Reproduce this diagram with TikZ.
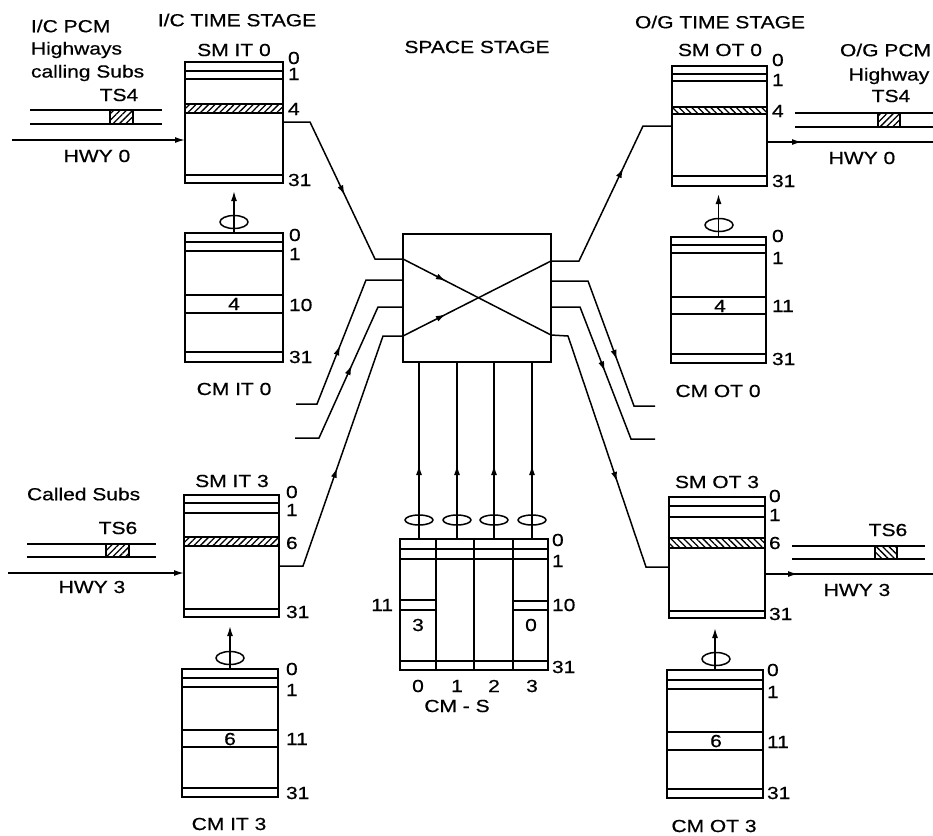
\documentclass[tikz,border=0pt]{standalone}
\usepackage{fontspec}
\setmainfont{Liberation Sans}[FakeStretch=1.2,FakeBold=0.6]
\usetikzlibrary{patterns,patterns.meta,decorations.markings,arrows.meta,shapes.geometric}
\begin{document}
\begin{tikzpicture}[x=1pt,y=-1pt,
  every node/.style={inner sep=0pt,outer sep=0pt},
  txt/.style={font=\fontsize{17.5}{20}\selectfont},
  membox/.style={draw,line width=2pt,rectangle,inner sep=0pt},
  rowln/.style={line width=1.5pt},
  wire/.style={line width=1.5pt},
  hne/.style={rowln,pattern={Lines[angle=45,distance=4.5pt,line width=1.3pt]}},
  hnw/.style={rowln,pattern={Lines[angle=-45,distance=4.5pt,line width=1.3pt]}},
  ring/.style={draw,ellipse,line width=1.5pt,minimum width=28pt,minimum height=13pt},
  ringsm/.style={draw,ellipse,line width=1.5pt,minimum width=28pt,minimum height=10pt},
  ar/.style={postaction={decorate,decoration={markings,mark=at position #1 with {\arrow{Latex[length=10pt,width=6pt]}}}}},
  tip/.style={-{Latex[length=10pt,width=6pt]}}
]
\useasboundingbox (0,0) rectangle (933,835);
\clip (0,0) rectangle (933,835);

% ---------- headings ----------
\node[txt] (hIC) at (237,20) {I/C TIME STAGE};
\node[txt] (hSP) at (477,47) {SPACE STAGE};
\node[txt] (hOG) at (720,22) {O/G TIME STAGE};
\node[txt,anchor=west] (pcm1) at (31,26) {I/C PCM};
\node[txt,anchor=west] (pcm2) at (31,50) {Highways};
\node[txt,anchor=west] (pcm3) at (31,73) {calling Subs};
\node[txt,anchor=east] (opcm1) at (931,50) {O/G PCM};
\node[txt] (opcm2) at (889,76) {Highway};
\node[txt,anchor=west] (csub) at (27,494) {Called Subs};

% ---------- SM IT 0 ----------
\node[txt] (tsmit0) at (234,50) {SM IT 0};
\node[membox,minimum width=98pt,minimum height=121pt] (smit0) at (234,122.5) {};
\draw[rowln] (185,71) -- (283,71) (185,79) -- (283,79) (185,175) -- (283,175);
\draw[hne] (185,104) rectangle (283,113);
\node[txt,anchor=west] (a0) at (288,58) {0};
\node[txt,anchor=west] (a1) at (288,74) {1};
\node[txt,anchor=west] (a4) at (288,109) {4};
\node[txt,anchor=west] (a31) at (288,180) {31};

% ---------- CM IT 0 ----------
\node[membox,minimum width=98pt,minimum height=129pt] (cmit0) at (234,297.5) {};
\draw[rowln] (185,242) -- (283,242) (185,251) -- (283,251) (185,295) -- (283,295) (185,313) -- (283,313) (185,352) -- (283,352);
\node[txt] (b4) at (234,304) {4};
\node[txt,anchor=west] (b0) at (289,235) {0};
\node[txt,anchor=west] (b1) at (289,254) {1};
\node[txt,anchor=west] (b10) at (289,305) {10};
\node[txt,anchor=west] (b31) at (289,357) {31};
\node[txt] (tcmit0) at (234,389) {CM IT 0};
\node[ring] (rit0) at (234,222) {};
\draw[wire,tip,shorten >=8pt] (cmit0.north) -- (cmit0.north |- smit0.south);

% ---------- SM OT 0 ----------
\node[txt] (tsmot0) at (720,50) {SM OT 0};
\node[membox,minimum width=95pt,minimum height=120pt] (smot0) at (719.5,126) {};
\draw[rowln] (672,74) -- (767,74) (672,81) -- (767,81) (672,176) -- (767,176);
\draw[hnw] (672,107) rectangle (767,114);
\node[txt,anchor=west] (c0) at (772,60) {0};
\node[txt,anchor=west] (c1) at (772,80) {1};
\node[txt,anchor=west] (c4) at (772,111) {4};
\node[txt,anchor=west] (c31) at (772,181) {31};

% ---------- CM OT 0 ----------
\node[membox,minimum width=95pt,minimum height=126pt] (cmot0) at (718.5,300) {};
\draw[rowln] (671,245) -- (766,245) (671,253) -- (766,253) (671,297) -- (766,297) (671,314) -- (766,314) (671,354) -- (766,354);
\node[txt] (d4) at (720,306) {4};
\node[txt,anchor=west] (d0) at (772,236) {0};
\node[txt,anchor=west] (d1) at (772,258) {1};
\node[txt,anchor=west] (d11) at (772,306) {11};
\node[txt,anchor=west] (d31) at (772,359) {31};
\node[txt] (tcmot0) at (718,391) {CM OT 0};
\node[ring] (rot0) at (719,225) {};
\draw[wire,tip,shorten >=8pt] (cmot0.north) -- (cmot0.north |- smot0.south);

% ---------- SM IT 3 ----------
\node[txt] (tsmit3) at (232,481) {SM IT 3};
\node[membox,minimum width=95pt,minimum height=122pt] (smit3) at (231.5,556) {};
\draw[rowln] (184,503) -- (279,503) (184,513) -- (279,513) (184,609) -- (279,609);
\draw[hne] (184,537) rectangle (279,546);
\node[txt,anchor=west] (e0) at (286,492) {0};
\node[txt,anchor=west] (e1) at (286,510) {1};
\node[txt,anchor=west] (e6) at (286,543) {6};
\node[txt,anchor=west] (e31) at (286,612) {31};

% ---------- CM IT 3 ----------
\node[membox,minimum width=96pt,minimum height=128pt] (cmit3) at (230,733) {};
\draw[rowln] (182,678) -- (278,678) (182,687) -- (278,687) (182,730) -- (278,730) (182,747) -- (278,747) (182,788) -- (278,788);
\node[txt] (f6) at (230,739) {6};
\node[txt,anchor=west] (f0) at (286,669) {0};
\node[txt,anchor=west] (f1) at (286,690) {1};
\node[txt,anchor=west] (f11) at (286,739) {11};
\node[txt,anchor=west] (f31) at (286,793) {31};
\node[txt] (tcmit3) at (229,824) {CM IT 3};
\node[ring] (rit3) at (230,658) {};
\draw[wire,tip,shorten >=9pt] (cmit3.north) -- (cmit3.north |- smit3.south);

% ---------- SM OT 3 ----------
\node[txt] (tsmot3) at (717,482) {SM OT 3};
\node[membox,minimum width=96pt,minimum height=121pt] (smot3) at (717,557.5) {};
\draw[rowln] (669,506) -- (765,506) (669,517) -- (765,517) (669,611) -- (765,611);
\draw[hnw] (669,538) rectangle (765,548);
\node[txt,anchor=west] (g0) at (769,496) {0};
\node[txt,anchor=west] (g1) at (769,515) {1};
\node[txt,anchor=west] (g6) at (769,543) {6};
\node[txt,anchor=west] (g31) at (769,614) {31};

% ---------- CM OT 3 ----------
\node[membox,minimum width=96pt,minimum height=128pt] (cmot3) at (715,734) {};
\draw[rowln] (667,680) -- (763,680) (667,689) -- (763,689) (667,732) -- (763,732) (667,750) -- (763,750) (667,789) -- (763,789);
\node[txt] (h6) at (716,741) {6};
\node[txt,anchor=west] (h0) at (767,670) {0};
\node[txt,anchor=west] (h1) at (767,692) {1};
\node[txt,anchor=west] (h11) at (767,742) {11};
\node[txt,anchor=west] (h31) at (767,793) {31};
\node[txt] (tcmot3) at (714,826) {CM OT 3};
\node[ring] (rot3) at (716,659) {};
\draw[wire,tip,shorten >=10pt] (cmot3.north) -- (cmot3.north |- smot3.south);

% ---------- incoming highways ----------
\draw[rowln] (30,110) -- (162,110) (30,124) -- (162,124);
\draw[hne] (110,110) rectangle (133,124);
\node[txt] (ts4a) at (119,95) {TS4};
\coordinate (hw0in) at (12,140);
\coordinate (smit0in) at (185,140);
\draw[wire,tip] (hw0in) -- (smit0in);
\node[txt] (hwy0a) at (97,156) {HWY 0};

\draw[rowln] (27,544) -- (156,544) (27,557) -- (156,557);
\draw[hne] (106,544) rectangle (129,557);
\node[txt] (ts6a) at (118,528) {TS6};
\coordinate (hw3in) at (8,573);
\coordinate (smit3in) at (184,573);
\draw[wire,tip] (hw3in) -- (smit3in);
\node[txt] (hwy3a) at (92,587) {HWY 3};

% ---------- outgoing highways ----------
\draw[rowln] (795,113) -- (940,113) (795,127) -- (940,127);
\draw[hne] (878,113) rectangle (900,127);
\node[txt] (ts4b) at (891,96) {TS4};
\coordinate (smot0out) at (767,142);
\coordinate (hw0out) at (940,142);
\draw[wire,ar=35pt] (smot0out) -- (hw0out);
\node[txt] (hwy0b) at (862,158) {HWY 0};

\draw[rowln] (792,546) -- (925,546) (792,559) -- (925,559);
\draw[hnw] (875,546) rectangle (897,559);
\node[txt] (ts6b) at (888,530) {TS6};
\coordinate (smot3out) at (765,574);
\coordinate (hw3out) at (940,574);
\draw[wire,ar=33pt] (smot3out) -- (hw3out);
\node[txt] (hwy3b) at (857,590) {HWY 3};

% ---------- space switch ----------
\node[membox,minimum width=148pt,minimum height=128pt] (sw) at (477,298) {};
\coordinate (swL1) at (403,259);
\coordinate (swL2) at (403,280);
\coordinate (swL3) at (403,307);
\coordinate (swL4) at (403,336);
\coordinate (swR1) at (551,261);
\coordinate (swR2) at (551,281);
\coordinate (swR3) at (551,307);
\coordinate (swR4) at (551,335);
\draw[wire,ar=0.29] (swL1) -- (swR4);
\draw[wire,ar=0.29] (swL4) -- (swR1);

% left connectors
\coordinate (smit0out) at (283,122);
\coordinate (smit3out) at (279,566);
\coordinate (freeL2) at (296,404);
\coordinate (freeL3) at (295,438);
\draw[wire,ar=108pt] (smit0out) -- (310,122) -- (375,259) -- (swL1);
\draw[wire,ar=84pt] (freeL2) -- (317,404) -- (366,280) -- (swL2);
\draw[wire,ar=104pt] (freeL3) -- (319,438) -- (378,307) -- (swL3);
\draw[wire,ar=128pt] (smit3out) -- (303,566) -- (383,336) -- (swL4);

% right connectors
\coordinate (smot0in) at (672,126);
\coordinate (smot3in) at (669,567);
\coordinate (freeR2) at (655,406);
\coordinate (freeR3) at (655,439);
\draw[wire,ar=131pt] (swR1) -- (579,261) -- (643,126) -- (smot0in);
\draw[wire,ar=121pt] (swR2) -- (588,281) -- (634,406) -- (freeR2);
\draw[wire,ar=98pt] (swR3) -- (580,307) -- (631,439) -- (freeR3);
\draw[wire,ar=171pt] (swR4) -- (568,336) -- (646,567) -- (smot3in);

% ---------- CM - S ----------
\node[membox,minimum width=148pt,minimum height=131pt] (cms) at (474,604.5) {};
\draw[rowln] (436,539) -- (436,670) (474,539) -- (474,670) (513,539) -- (513,670);
\draw[rowln] (400,549) -- (548,549) (400,559) -- (548,559) (400,661) -- (548,661);
\draw[rowln] (400,600) -- (436,600) (400,610) -- (436,610) (513,601) -- (548,601) (513,610) -- (548,610);
\node[txt] (s3) at (418,625) {3};
\node[txt] (s0) at (531,625) {0};
\node[txt,anchor=west] (k0) at (552,540) {0};
\node[txt,anchor=west] (k1) at (552,561) {1};
\node[txt,anchor=west] (k10) at (552,605) {10};
\node[txt,anchor=west] (k31) at (552,667) {31};
\node[txt,anchor=east] (k11) at (393,605) {11};
\node[txt] (c0l) at (418,686) {0};
\node[txt] (c1l) at (457,686) {1};
\node[txt] (c2l) at (494,686) {2};
\node[txt] (c3l) at (532,686) {3};
\node[txt] (tcms) at (457,706) {CM - S};
\foreach \xx/\nm in {419/v0,457/v1,494/v2,532/v3}{
  \coordinate (\nm b) at (\xx,539);
  \coordinate (\nm t) at (\xx,362);
  \draw[wire,ar=74pt] (\nm b) -- (\nm t);
  \node[ringsm] (\nm r) at (\xx,520) {};
}
\end{tikzpicture}
\end{document}
